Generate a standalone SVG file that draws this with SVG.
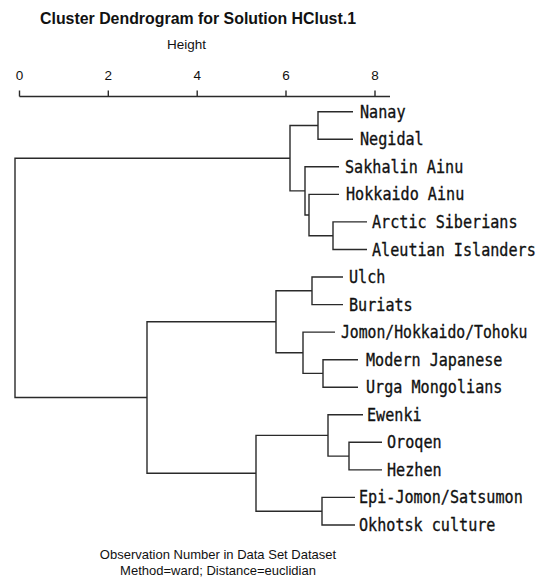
<svg xmlns="http://www.w3.org/2000/svg" width="539" height="581" viewBox="0 0 539 581">
<style>
.bg{fill:#ffffff}
.title{font-family:"Liberation Sans",Arial,sans-serif;font-weight:bold;font-size:16px;fill:#111}
.axislbl{font-family:"Liberation Sans",Arial,sans-serif;font-size:13.5px;fill:#111}
.tick{font-family:"Liberation Sans",Arial,sans-serif;font-size:13.5px;fill:#111;text-anchor:middle}
.foot{font-family:"Liberation Sans",Arial,sans-serif;font-size:13px;fill:#111;text-anchor:middle}
.leaf{font-family:"DejaVu Sans Mono","Liberation Mono",monospace;font-size:18px;fill:#111;stroke:#111;stroke-width:0.35}
.ln{fill:none;stroke:#2a2a2a;stroke-width:1.4}
</style>
<rect class="bg" x="0" y="0" width="539" height="581"/>
<text class="title" x="40" y="23.5" textLength="316" lengthAdjust="spacingAndGlyphs">Cluster Dendrogram for Solution HClust.1</text>
<text class="axislbl" x="167" y="48.5">Height</text>
<g id="axis">
<text class="tick" x="19.5" y="80">0</text>
<text class="tick" x="108.3" y="80">2</text>
<text class="tick" x="197.2" y="80">4</text>
<text class="tick" x="286" y="80">6</text>
<text class="tick" x="375" y="80">8</text>
<path class="ln" d="M19.5 96.5 H390 M19.5 90.5 V96.5 M108.3 90.5 V96.5 M197.2 90.5 V96.5 M286 90.5 V96.5 M375 90.5 V96.5"/>
</g>
<g id="connectors">
<path class="ln" d="M353 111.7 H318 V139.3 H353"/>
<path class="ln" d="M367 221.9 H333 V249.5 H367"/>
<path class="ln" d="M339 194.4 H309 V235.7 H333"/>
<path class="ln" d="M339 166.8 H305 V215 H309"/>
<path class="ln" d="M318 125.5 H290 V190.9 H305"/>
<path class="ln" d="M343 277 H312 V304.6 H343"/>
<path class="ln" d="M358 359.7 H323 V387.2 H358"/>
<path class="ln" d="M335 332.1 H303 V373.4 H323"/>
<path class="ln" d="M312 290.8 H276 V352.8 H303"/>
<path class="ln" d="M382 442.3 H349 V469.9 H382"/>
<path class="ln" d="M363 414.8 H328 V456.1 H349"/>
<path class="ln" d="M355 497.4 H322 V525 H355"/>
<path class="ln" d="M328 435.4 H256 V511.2 H322"/>
<path class="ln" d="M276 321.8 H147 V473.3 H256"/>
<path class="ln" d="M290 158.2 H15 V397.5 H147"/>
</g>
<g id="n-nanay"><text class="leaf" transform="translate(360 117.7) scale(0.84 1)">Nanay</text></g>
<g id="n-negidal"><text class="leaf" transform="translate(360 145.3) scale(0.84 1)">Negidal</text></g>
<g id="n-sakhalin-ainu"><text class="leaf" transform="translate(345 172.8) scale(0.84 1)">Sakhalin Ainu</text></g>
<g id="n-hokkaido-ainu"><text class="leaf" transform="translate(346 200.4) scale(0.84 1)">Hokkaido Ainu</text></g>
<g id="n-arctic-siberians"><text class="leaf" transform="translate(372 227.9) scale(0.84 1)">Arctic Siberians</text></g>
<g id="n-aleutian-islanders"><text class="leaf" transform="translate(372 255.5) scale(0.84 1)">Aleutian Islanders</text></g>
<g id="n-ulch"><text class="leaf" transform="translate(349 283) scale(0.84 1)">Ulch</text></g>
<g id="n-buriats"><text class="leaf" transform="translate(349 310.6) scale(0.84 1)">Buriats</text></g>
<g id="n-jomon"><text class="leaf" transform="translate(341 338.1) scale(0.82 1)">Jomon/Hokkaido/Tohoku</text></g>
<g id="n-modern-japanese"><text class="leaf" transform="translate(366 365.7) scale(0.84 1)">Modern Japanese</text></g>
<g id="n-urga-mongolians"><text class="leaf" transform="translate(366 393.2) scale(0.84 1)">Urga Mongolians</text></g>
<g id="n-ewenki"><text class="leaf" transform="translate(367 420.8) scale(0.84 1)">Ewenki</text></g>
<g id="n-oroqen"><text class="leaf" transform="translate(387 448.3) scale(0.84 1)">Oroqen</text></g>
<g id="n-hezhen"><text class="leaf" transform="translate(387 475.9) scale(0.84 1)">Hezhen</text></g>
<g id="n-epi-jomon"><text class="leaf" transform="translate(359 503.4) scale(0.84 1)">Epi-Jomon/Satsumon</text></g>
<g id="n-okhotsk"><text class="leaf" transform="translate(359 531) scale(0.84 1)">Okhotsk culture</text></g>
<text class="foot" x="218" y="559">Observation Number in Data Set Dataset</text>
<text class="foot" x="218" y="575">Method=ward; Distance=euclidian</text>
</svg>
